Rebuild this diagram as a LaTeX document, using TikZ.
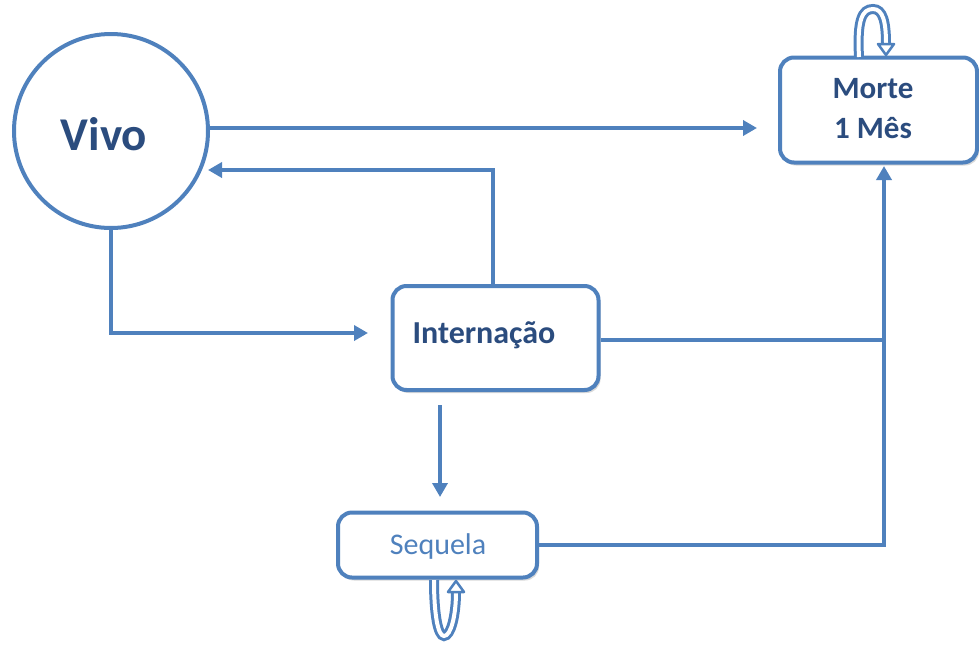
\documentclass[tikz,border=0pt]{standalone}
\usepackage{fontspec}
\setmainfont{Carlito}
\usetikzlibrary{arrows.meta,shadows}
\definecolor{ln}{HTML}{4F81BD}
\definecolor{tx}{HTML}{2B4C7E}
\begin{document}
\begin{tikzpicture}[x=1pt,y=-1pt,
  conn/.style={draw=ln,line width=4pt,line join=miter},
  arr/.style={conn,-{Triangle[length=14pt,width=15pt]}},
  boxst/.style={draw=ln,line width=4pt,fill=white,rounded corners=14pt,inner sep=0pt,
     drop shadow={shadow xshift=2pt,shadow yshift=-3pt,opacity=0.25,fill=black!60}},
  loopout/.style={draw=ln,line width=10pt,line cap=butt},
  loopin/.style={draw=white,line width=4pt,line cap=butt}]
\useasboundingbox (0,0) rectangle (979,646);
% nodes
\node[circle,draw=ln,line width=4pt,fill=white,minimum size=194pt,inner sep=0pt] (vivo) at (111,131) {};
\node[text=tx,font=\bfseries\fontsize{47}{50}\selectfont] (vivot) at (104,134) {Vivo};
\node[boxst,minimum width=197pt,minimum height=105pt] (morte) at (878.5,110) {};
\node[text=tx,font=\bfseries\fontsize{31}{40}\selectfont,align=center] (mortet) at (873,109) {Morte\\1 Mês};
\node[boxst,minimum width=206pt,minimum height=104pt] (intern) at (495.5,338) {};
\node[text=tx,font=\bfseries\fontsize{32}{34}\selectfont] (internt) at (484,335) {Internação};
\node[boxst,minimum width=199pt,minimum height=65pt] (seq) at (437.5,545) {};
\node[text=ln,font=\fontsize{30}{32}\selectfont] (seqt) at (438,546) {Sequela};
% coordinates
\coordinate (c1) at (493,170);
\coordinate (c2) at (208,170);
\coordinate (c3) at (111,333);
\coordinate (c4) at (368,333);
\coordinate (j2) at (884,340);
\coordinate (j1) at (884,545);
\coordinate (mt) at (884,166);
\coordinate (ib) at (440,405);
\coordinate (st) at (440,497);
\coordinate (vm) at (757,128);
\coordinate (ve) at (209,128);
% connectors
\draw[arr] (ve) -- (vm);
\draw[arr] (intern.north -| c1) -- (c1) -- (c2);
\draw[arr] (vivo.south) -- (c3) -- (c4);
\draw[conn] (intern.east |- j2) -- (j2);
\draw[arr] (seq.east |- j1) -- (j1) -- (mt);
\draw[arr] (ib) -- (st);
% self loops (hollow curved arrows)
\coordinate (ma) at (859,57);
\coordinate (mb) at (886,44);
\draw[loopout] (ma) .. controls (857,20) and (862,9) .. (873,9) .. controls (883,9) and (886,22) .. (mb);
\draw[loopin] (ma) .. controls (857,20) and (862,9) .. (873,9) .. controls (883,9) and (886,22) .. (mb);
\draw[ln,line width=2.5pt,fill=white,line join=round] (878,44) -- (894,44) -- (886,55) -- cycle;
\coordinate (sa) at (434,580);
\coordinate (sb) at (456,592);
\draw[loopout] (sa) .. controls (434,615) and (438,636) .. (444,636) .. controls (451,636) and (456,615) .. (sb);
\draw[loopin] (sa) .. controls (434,615) and (438,636) .. (444,636) .. controls (451,636) and (456,615) .. (sb);
\draw[ln,line width=2.5pt,fill=white,line join=round] (448,592) -- (464,592) -- (456,581) -- cycle;
\end{tikzpicture}
\end{document}
